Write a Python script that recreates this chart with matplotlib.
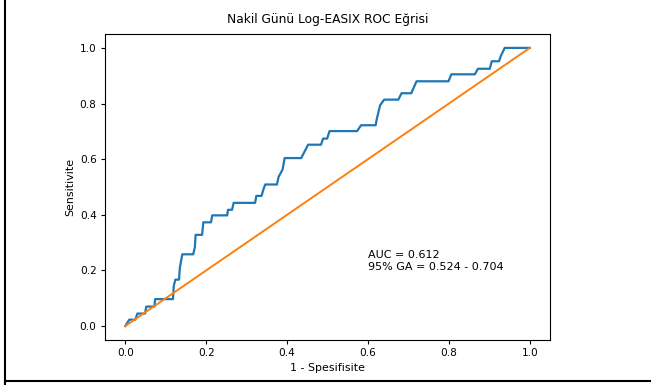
import numpy as np
import matplotlib
matplotlib.use('Agg')
import matplotlib.pyplot as plt
from matplotlib.lines import Line2D

# ROC eğrisi noktaları (1 - spesifisite, sensitivite)
fpr = [0.0, 0.010, 0.025, 0.030, 0.049, 0.052, 0.072, 0.074, 0.118, 0.120,
       0.124, 0.133, 0.135, 0.141, 0.168, 0.172, 0.174, 0.190, 0.193, 0.212,
       0.215, 0.252, 0.254, 0.264, 0.268, 0.321, 0.324, 0.337, 0.341, 0.346,
       0.375, 0.379, 0.389, 0.394, 0.435, 0.452, 0.484, 0.489, 0.499, 0.505,
       0.573, 0.583, 0.619, 0.622, 0.630, 0.640, 0.675, 0.683, 0.707, 0.720,
       0.799, 0.806, 0.864, 0.872, 0.901, 0.906, 0.924, 0.928, 0.938, 1.0]
tpr = [0.0, 0.023, 0.023, 0.045, 0.045, 0.070, 0.070, 0.097, 0.097, 0.145,
       0.167, 0.167, 0.210, 0.258, 0.258, 0.283, 0.328, 0.328, 0.373, 0.373,
       0.398, 0.398, 0.418, 0.418, 0.443, 0.443, 0.468, 0.468, 0.489, 0.509,
       0.509, 0.536, 0.563, 0.604, 0.604, 0.652, 0.652, 0.674, 0.674, 0.701,
       0.701, 0.722, 0.722, 0.746, 0.794, 0.814, 0.814, 0.837, 0.837, 0.880,
       0.880, 0.905, 0.905, 0.925, 0.925, 0.952, 0.952, 0.970, 1.0, 1.0]

auc = 0.612
ci_low, ci_high = 0.524, 0.704

plt.rcParams['font.size'] = 7.6
plt.rcParams['axes.linewidth'] = 0.8
plt.rcParams['xtick.major.size'] = 2.6
plt.rcParams['ytick.major.size'] = 2.6

fig = plt.figure(figsize=(6.51, 3.85), dpi=100)
ax = fig.add_axes([0.1613, 0.1169, 0.6836, 0.7948])

ax.plot(fpr, tpr, lw=1.6)
ax.plot([0, 1], [0, 1], lw=1.4)
ax.text(0.6, 0.2, f"AUC = {auc:.3f}\n95% GA = {ci_low:.3f} - {ci_high:.3f}",
        fontsize=8, linespacing=1.35)

ax.set_title('Nakil Günü Log-EASIX ROC Eğrisi', fontsize=8.8, pad=8)
ax.set_xlabel('1 - Spesifisite', fontsize=7.9, labelpad=3)
ax.set_ylabel('Sensitivite', fontsize=7.9, labelpad=3)

# ekran görüntüsü çerçevesi (sol ve alt kenar)
fig.add_artist(Line2D([5 / 651, 5 / 651], [0, 1], color='black', lw=1.5))
fig.add_artist(Line2D([5 / 651, 1], [4 / 385, 4 / 385], color='black', lw=1.5))

plt.savefig('out.png', dpi=100)
